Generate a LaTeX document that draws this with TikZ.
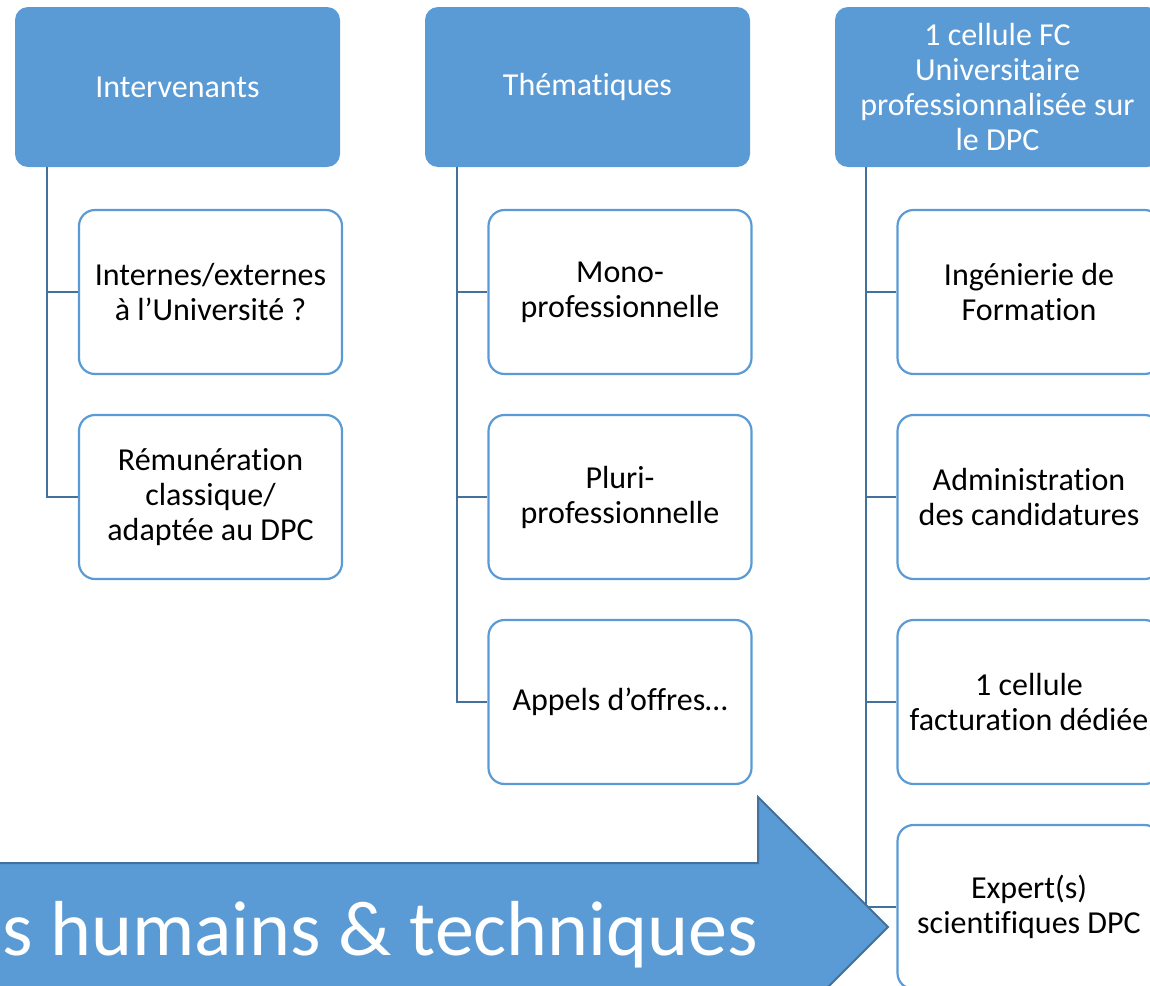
\documentclass[tikz,border=0pt]{standalone}
\usepackage{fontspec}
\setmainfont{Carlito}[Ligatures=CommonOff]
\definecolor{hblue}{HTML}{5B9BD5}
\definecolor{dblue}{HTML}{41719C}
\tikzset{
  head/.style={rectangle, rounded corners=13pt, fill=hblue, draw=none, text=white,
    minimum width=325pt, minimum height=160pt, text width=310pt, align=flush center,
    inner sep=0pt, font=\fontsize{32}{35}\selectfont},
  child/.style={rectangle, rounded corners=16pt, fill=white, draw=hblue, line width=2.2pt,
    minimum width=263pt, minimum height=164pt, text width=258pt, align=flush center,
    inner sep=0pt, font=\fontsize{32}{35}\selectfont},
  conn/.style={draw=dblue, line width=2.2pt},
}
\begin{document}
\begin{tikzpicture}[x=1pt,y=-1pt]
\useasboundingbox (0,0) rectangle (1150,985);
% headers
\node[head] (h1) at (177.5,87) {Intervenants};
\node[head] (h2) at (587.5,87) {Thématiques};
\node[head] (h3) at (997.5,87) {1 cellule FC\\Universitaire\\professionnalisée sur\\le DPC};
% children col 1
\node[child] (c11) at (210.5,292) {Internes/externes\\à l’Université ?};
\node[child] (c12) at (210.5,497) {Rémunération\\classique/\\adaptée au DPC};
% col 2
\node[child] (c21) at (620,292) {Mono-\\professionnelle};
\node[child] (c22) at (620,497) {Pluri-\\professionnelle};
\node[child] (c23) at (620,702) {Appels d’offres…};
% col 3
\node[child] (c31) at (1029,292) {Ingénierie de\\Formation};
\node[child] (c32) at (1029,497) {Administration\\des candidatures};
\node[child] (c33) at (1029,702) {1 cellule\\facturation dédiée};
\node[child] (c34) at (1029,907) {Expert(s)\\scientifiques DPC};
% connectors
\draw[conn] ([xshift=32]h1.south west) |- (c11.west);
\draw[conn] ([xshift=32]h1.south west) |- (c12.west);
\draw[conn] ([xshift=32]h2.south west) |- (c21.west);
\draw[conn] ([xshift=32]h2.south west) |- (c22.west);
\draw[conn] ([xshift=32]h2.south west) |- (c23.west);
\draw[conn] ([xshift=31]h3.south west) |- (c31.west);
\draw[conn] ([xshift=31]h3.south west) |- (c32.west);
\draw[conn] ([xshift=31]h3.south west) |- (c33.west);
\draw[conn] ([xshift=31]h3.south west) |- (c34.west);
% big arrow
\coordinate (a1) at (-20,863);
\coordinate (a2) at (758,863);
\coordinate (a3) at (758,797);
\coordinate (tip) at (888,927);
\coordinate (a5) at (758,1057);
\coordinate (a6) at (758,991);
\coordinate (a7) at (-20,991);
\draw[fill=hblue, draw=dblue, line width=2pt, line join=miter]
  (a1) -- (a2) -- (a3) -- (tip) -- (a5) -- (a6) -- (a7) -- cycle;
\node[anchor=base west, text=white, inner sep=0pt, font=\fontsize{78}{90}\selectfont] (arrowtext) at (2,955) {s humains \& techniques};
\end{tikzpicture}
\end{document}
